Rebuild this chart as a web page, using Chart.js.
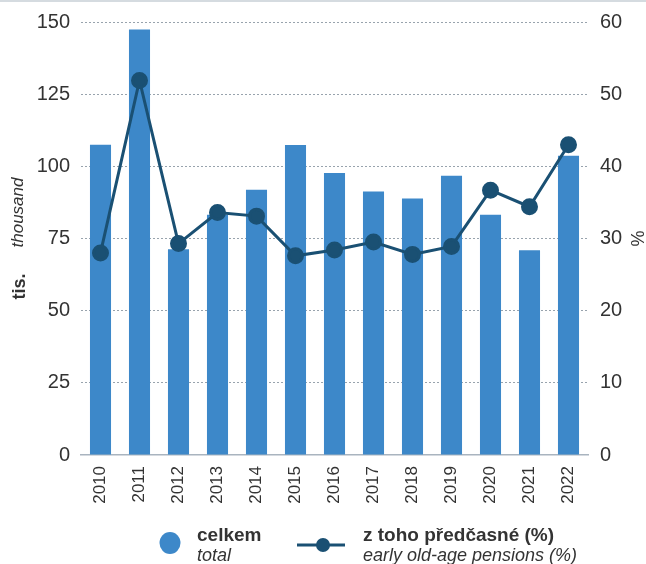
<!DOCTYPE html>
<html>
<head>
<meta charset="utf-8">
<script src="https://cdn.jsdelivr.net/npm/chart.js@4/dist/chart.umd.min.js"></script>
<style>
  html, body { margin: 0; padding: 0; background: #fff; }
  #wrap { position: relative; width: 646px; height: 564px; border-top: 2px solid #d5dbe0; box-sizing: border-box; }
</style>
</head>
<body>
<div id="wrap"><canvas id="chart1" width="646" height="562"></canvas></div>
<script>
const years = ['2010','2011','2012','2013','2014','2015','2016','2017','2018','2019','2020','2021','2022'];
const totalThousand = [107.5, 147.4, 71.3, 83.2, 91.9, 107.4, 97.7, 91.3, 88.9, 96.7, 83.2, 70.9, 103.7];
const earlyShare = [28.0, 51.9, 29.3, 33.6, 33.1, 27.6, 28.4, 29.5, 27.8, 28.9, 36.7, 34.4, 43.0];
const leftTicks = [0, 25, 50, 75, 100, 125, 150];
const rightTicks = [0, 10, 20, 30, 40, 50, 60];

const barColor = '#3d88c9';
const lineColor = '#1a5073';
const textColor = '#333333';
const fontFam = '"Liberation Sans", Arial, sans-serif';

// axis titles + legend drawn on the canvas
const extras = {
  id: 'extras',
  afterDraw(chart) {
    const c = chart.ctx;
    const area = chart.chartArea;
    const midY = (area.top + area.bottom) / 2;
    c.save();
    c.fillStyle = textColor;
    c.textBaseline = 'middle';

    // left title: "tis.  thousand"
    c.save();
    c.translate(20, midY);
    c.rotate(-Math.PI / 2);
    c.font = 'bold 18px ' + fontFam;
    const w1 = c.measureText('tis.').width;
    c.font = 'italic 17px ' + fontFam;
    const w2 = c.measureText('thousand').width;
    const gap = 26;
    let x0 = -(w1 + gap + w2) / 2;
    c.font = 'bold 18px ' + fontFam;
    c.textAlign = 'left';
    c.fillText('tis.', x0, 0);
    c.font = 'italic 17px ' + fontFam;
    c.fillText('thousand', x0 + w1 + gap, -2);
    c.restore();

    // right title
    c.save();
    c.translate(639, midY);
    c.rotate(-Math.PI / 2);
    c.font = '18px ' + fontFam;
    c.textAlign = 'center';
    c.fillText('%', 0, 0);
    c.restore();

    // legend
    const ly = 539;
    c.fillStyle = barColor;
    c.beginPath();
    c.ellipse(170, ly + 2, 10.5, 11, 0, 0, Math.PI * 2);
    c.fill();

    c.fillStyle = textColor;
    c.textAlign = 'left';
    c.textBaseline = 'alphabetic';
    c.font = 'bold 19px ' + fontFam;
    c.fillText('celkem', 197, ly);
    c.font = 'italic 18px ' + fontFam;
    c.fillText('total', 197, ly + 20);

    c.strokeStyle = lineColor;
    c.lineWidth = 3;
    c.beginPath();
    c.moveTo(297, ly + 4);
    c.lineTo(345, ly + 4);
    c.stroke();
    c.fillStyle = lineColor;
    c.beginPath();
    c.arc(323, ly + 4, 7, 0, Math.PI * 2);
    c.fill();

    c.fillStyle = textColor;
    c.font = 'bold 19px ' + fontFam;
    c.fillText('z toho předčasné (%)', 363, ly);
    c.font = 'italic 18px ' + fontFam;
    c.fillText('early old-age pensions (%)', 363, ly + 20);
    c.restore();
  }
};

const ctx1 = document.getElementById('chart1').getContext('2d');
const myChart = new Chart(ctx1, {
  type: 'bar',
  data: {
    labels: years,
    datasets: [
      {
        type: 'line',
        label: 'z toho předčasné (%)',
        data: earlyShare,
        yAxisID: 'y1',
        borderColor: lineColor,
        backgroundColor: lineColor,
        borderWidth: 3,
        pointRadius: 7,
        pointHoverRadius: 7,
        tension: 0,
        order: 0
      },
      {
        label: 'celkem',
        data: totalThousand,
        yAxisID: 'y',
        backgroundColor: barColor,
        categoryPercentage: 0.9,
        barPercentage: 0.6,
        order: 1
      }
    ]
  },
  options: {
    responsive: false,
    animation: false,
    layout: { padding: { top: 20, bottom: 50, left: 0, right: 0 } },
    plugins: {
      legend: { display: false },
      tooltip: { enabled: false }
    },
    scales: {
      x: {
        grid: { display: false },
        border: { display: true, color: '#a9b4bf', width: 1.5 },
        ticks: {
          minRotation: 90,
          maxRotation: 90,
          color: textColor,
          padding: 3,
          font: { family: fontFam, size: 17 }
        },
        afterFit(scale) { scale.height = 59; scale.paddingLeft = 0; scale.paddingRight = 0; }
      },
      y: {
        position: 'left',
        min: 0,
        max: 150,
        afterBuildTicks(scale) { scale.ticks = leftTicks.map(v => ({ value: v })); },
        grid: {
          drawTicks: false,
          color: ctx => ctx.tick && ctx.tick.value === 0 ? 'rgba(0,0,0,0)' : '#98a3ad',
          lineWidth: 1
        },
        border: { display: false, dash: [2, 2] },
        ticks: {
          color: textColor,
          padding: 11,
          font: { family: fontFam, size: 20 }
        },
        afterFit(scale) { scale.width = 81; scale.paddingTop = 0; scale.paddingBottom = 0; }
      },
      y1: {
        position: 'right',
        min: 0,
        max: 60,
        afterBuildTicks(scale) { scale.ticks = rightTicks.map(v => ({ value: v })); },
        grid: { display: false, drawTicks: false },
        border: { display: false },
        ticks: {
          color: textColor,
          padding: 12,
          font: { family: fontFam, size: 20 }
        },
        afterFit(scale) { scale.width = 58; scale.paddingTop = 0; scale.paddingBottom = 0; }
      }
    }
  },
  plugins: [extras]
});
</script>
</body>
</html>
